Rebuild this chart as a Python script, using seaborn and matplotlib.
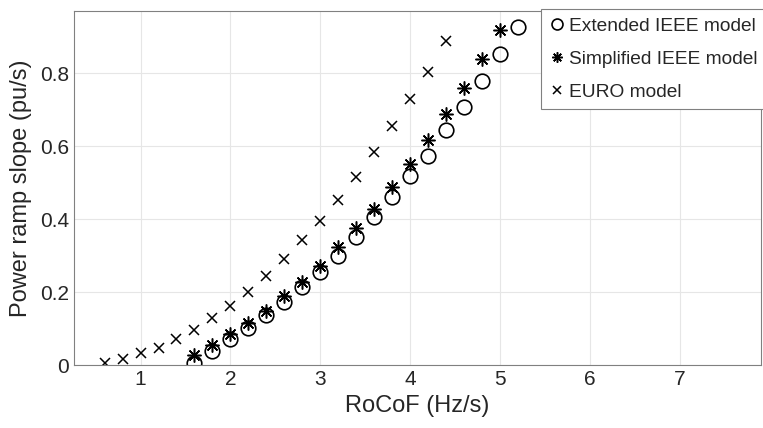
import numpy as np
import pandas as pd
import matplotlib
matplotlib.use("Agg")
import matplotlib.pyplot as plt
import seaborn as sns

# RoCoF values (Hz/s) and power ramp slopes (pu/s)
rocof_ext = [1.6, 1.8, 2.0, 2.2, 2.4, 2.6, 2.8, 3.0, 3.2, 3.4, 3.6, 3.8, 4.0,
             4.2, 4.4, 4.6, 4.8, 5.0, 5.2]
slope_ext = [0.006, 0.039, 0.071, 0.101, 0.136, 0.172, 0.214, 0.256, 0.300, 0.350,
             0.405, 0.461, 0.518, 0.572, 0.644, 0.707, 0.779, 0.852, 0.926]

rocof_simp = [1.6, 1.8, 2.0, 2.2, 2.4, 2.6, 2.8, 3.0, 3.2, 3.4, 3.6, 3.8, 4.0,
              4.2, 4.4, 4.6, 4.8, 5.0]
slope_simp = [0.028, 0.055, 0.084, 0.115, 0.147, 0.188, 0.227, 0.272, 0.323, 0.375,
              0.429, 0.488, 0.552, 0.616, 0.688, 0.759, 0.839, 0.919]

rocof_euro = [0.6, 0.8, 1.0, 1.2, 1.4, 1.6, 1.8, 2.0, 2.2, 2.4, 2.6, 2.8, 3.0,
              3.2, 3.4, 3.6, 3.8, 4.0, 4.2, 4.4]
slope_euro = [0.007, 0.017, 0.032, 0.048, 0.072, 0.096, 0.128, 0.163, 0.201, 0.244,
              0.292, 0.342, 0.395, 0.452, 0.516, 0.583, 0.654, 0.728, 0.804, 0.889]

x_ticks = [1, 2, 3, 4, 5, 6, 7]
y_ticks = [0, 0.2, 0.4, 0.6, 0.8]
y_tick_labels = ["0", "0.2", "0.4", "0.6", "0.8"]

sns.set_style("white")
plt.rcParams["font.family"] = ["Liberation Sans", "DejaVu Sans"]
txt = "#262626"

fig = plt.figure(figsize=(7.63, 4.28), dpi=100)
ax = fig.add_axes([0.097, 0.147, 0.9, 0.827])

# draw each model as markers only
sns.lineplot(x=rocof_ext, y=slope_ext, ax=ax, linestyle="", marker="o",
             markersize=10.5, markerfacecolor="none", markeredgecolor="k",
             markeredgewidth=1.2, label="Extended IEEE model")
sns.lineplot(x=rocof_simp, y=slope_simp, ax=ax, linestyle="", marker=(8, 2, 0),
             markersize=10, markeredgecolor="k", color="k",
             markeredgewidth=1.1, label="Simplified IEEE model")
sns.lineplot(x=rocof_euro, y=slope_euro, ax=ax, linestyle="", marker="x",
             markersize=7.5, markeredgecolor="k", color="k",
             markeredgewidth=1.1, label="EURO model")

ax.set_xlim(0.26, 7.9)
ax.set_ylim(0, 0.97)
ax.set_xticks(x_ticks)
ax.set_yticks(y_ticks)
ax.set_yticklabels(y_tick_labels)
ax.grid(True, color="#e6e6e6", linewidth=0.8)
ax.tick_params(labelsize=15, colors=txt, length=4, direction="in")
for sp in ax.spines.values():
    sp.set_color("#808080")
    sp.set_linewidth(0.8)

ax.set_xlabel("RoCoF (Hz/s)", fontsize=17, color=txt, labelpad=4)
ax.set_ylabel("Power ramp slope (pu/s)", fontsize=17, color=txt, labelpad=6)

# legend sits over the top right corner, as in the reference
leg = ax.legend(loc="upper left", bbox_to_anchor=(0.709, 0.979),
                bbox_transform=fig.transFigure, fontsize=13.8, frameon=True,
                fancybox=False, framealpha=1, edgecolor="#808080",
                handletextpad=0.2, handlelength=0.8, markerscale=0.75,
                labelspacing=0.8, borderpad=0.45, borderaxespad=0)
leg.get_frame().set_linewidth(0.8)
for t in leg.get_texts():
    t.set_color(txt)

fig.savefig("out.png", dpi=100)
